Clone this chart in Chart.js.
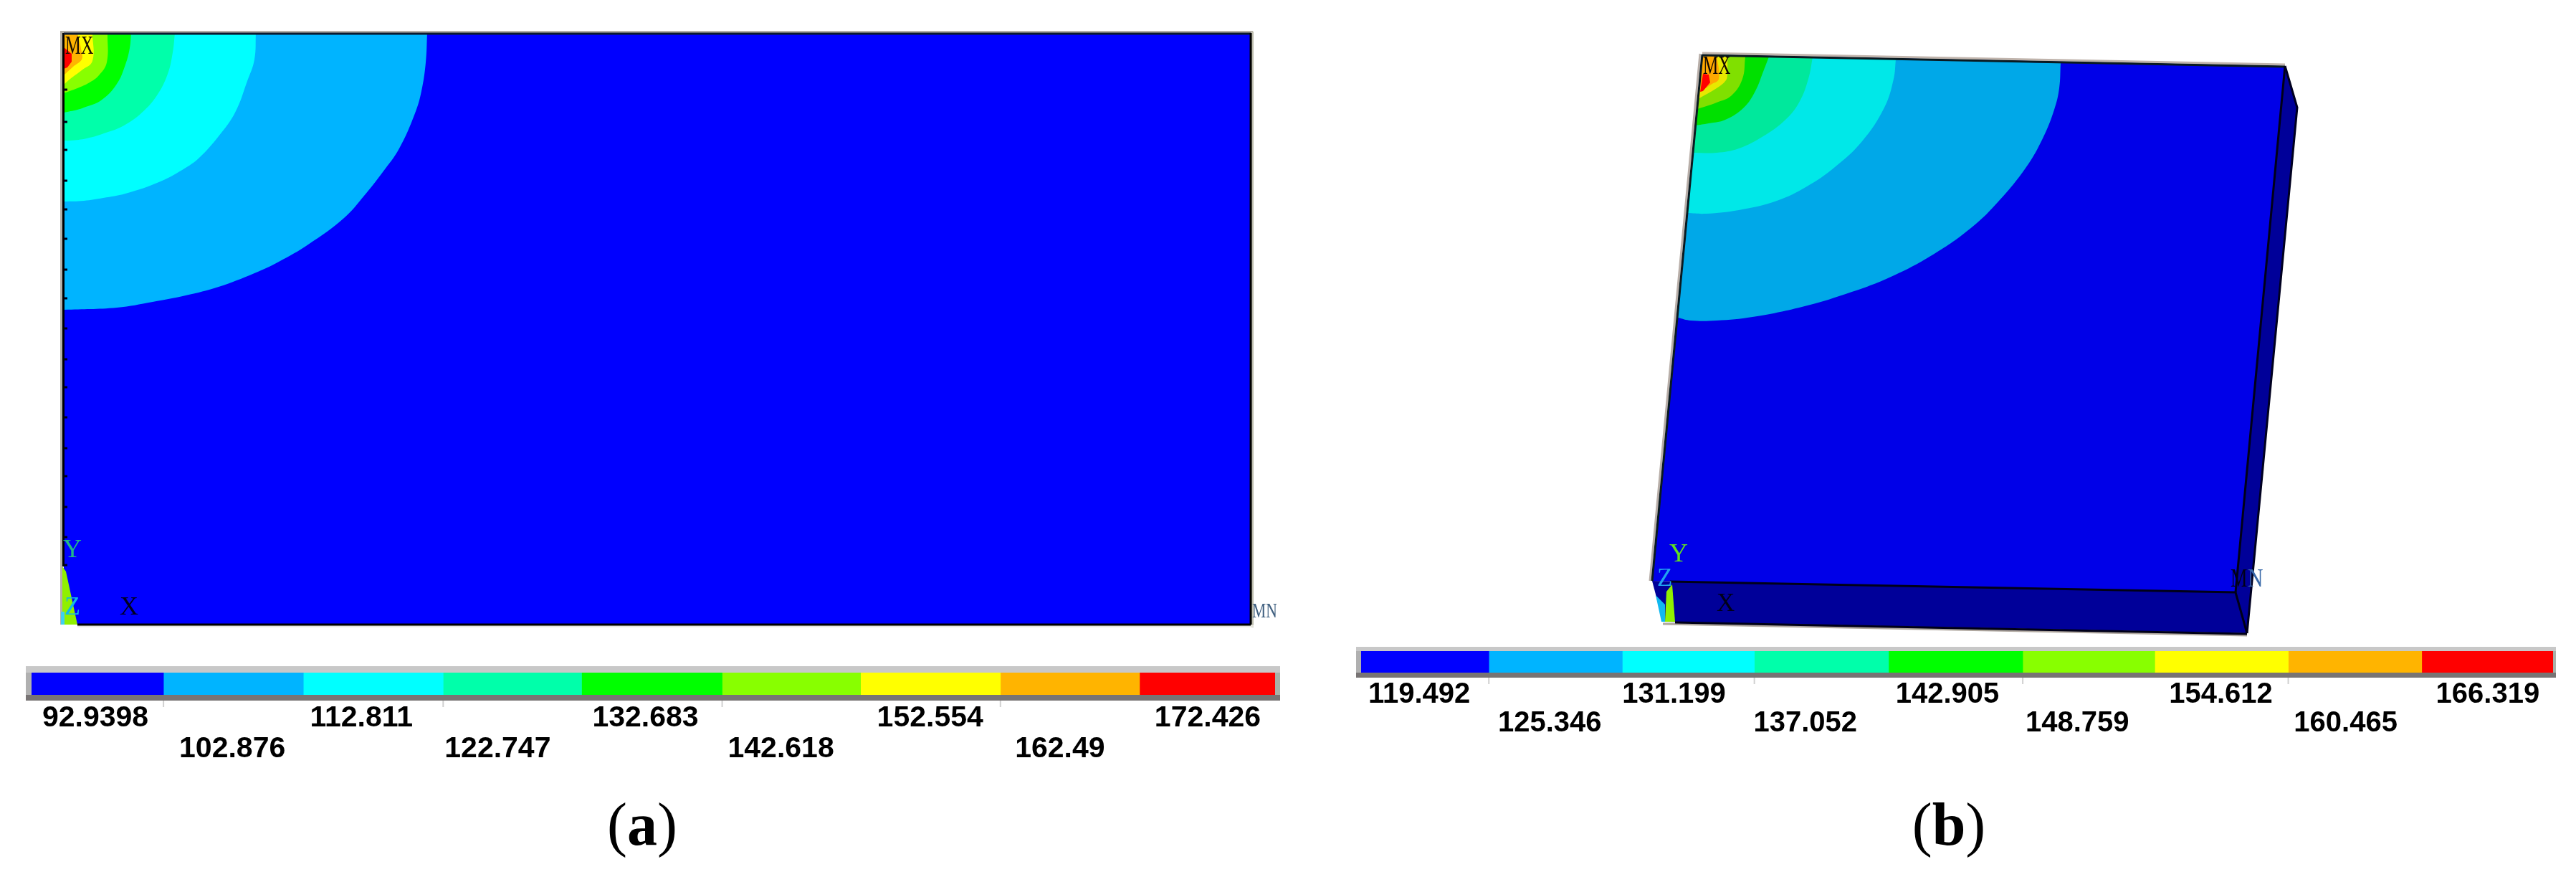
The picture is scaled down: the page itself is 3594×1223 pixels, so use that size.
<!DOCTYPE html>
<html>
<head>
<meta charset="utf-8">
<script src="https://cdn.jsdelivr.net/npm/chart.js@4/dist/chart.umd.js"></script>
<style>
html,body{margin:0;padding:0;background:#fff;width:3594px;height:1223px;overflow:hidden}
canvas{position:absolute;display:block}
.cap{position:absolute;font-family:"Liberation Serif",serif;font-size:84px;line-height:100px;color:#000;transform:translateX(-50%);white-space:nowrap}
</style>
</head>
<body>
<canvas id="plateA" style="left:59px;top:20px" width="1722" height="880"></canvas>
<canvas id="plateB" style="left:2290px;top:50px" width="940" height="850"></canvas>
<canvas id="barA" style="left:36px;top:929px" width="1750" height="140"></canvas>
<canvas id="barB" style="left:1892px;top:902px" width="1674" height="130"></canvas>
<div class="cap" style="left:896px;top:1100px">(<b>a</b>)</div>
<div class="cap" style="left:2719px;top:1100px">(<b>b</b>)</div>
<script>
// ---- colour-bar data ----
const bandColors = ['#0000ff','#00b4ff','#00ffff','#00ffaa','#00ff00','#88ff00','#ffff00','#ffb400','#ff0000'];
const labelsA = ['92.9398','102.876','112.811','122.747','132.683','142.618','152.554','162.49','172.426'];
const labelsB = ['119.492','125.346','131.199','137.052','142.905','148.759','154.612','160.465','166.319'];
const bandWidthsA = [184,195,195,193,196,193,195,194,189];
const bandWidthsB = [178,186,184,187,187,184,186,186,183];
const labelPosA = [89,280,460,650,856,1045,1253,1434,1640];
const labelPosB = [81,263,436,619,817,998,1198,1372,1570];

// ---- contour boundaries of panel (a), in picture units ----
const plateA = [[89,46],[1745,46],[1745,871],[89,871]];
const contA1 = [[89,46],[596,46],[594,87],[588,127],[579,158],[557,207],[534,240],[508,273],[480,304],[430,341],[389,365],[355,381],[305,400],[259,412],[213,421],[163,429],[89,432]];
const contA2 = [[89,46],[357,46],[355,83],[345,113],[328,157],[305,190],[278,220],[259,234],[224,253],[175,270],[144,276],[117,280],[89,281]];
const contA3 = [[89,46],[244,46],[241,73],[234,103],[219,133],[198,157],[173,175],[148,185],[121,193],[98,196],[89,196]];
const contA4 = [[89,46],[183,46],[181,67],[175,90],[163,117],[141,140],[117,150],[108,153],[89,157]];
const contA5 = [[89,46],[150,46],[149,87],[138,105],[125,115],[108,123],[89,130]];
const contA6 = [[89,46],[129,46],[129,85],[114,98],[98,110],[89,118]];
const contA7 = [[89,46],[108,46],[114,73],[114,83],[102,93],[89,105]];
const contA8 = [[89,66],[100,75],[100,86],[94,94],[89,96]];
const wedgeA1 = [[87,790],[92,797],[108,871],[87,871]];
const wedgeA2 = [[85,853],[90,853],[90,871],[85,871]];
const edgeTicksA = [125,170,209,252,292,333,376,416,458,501,540,582,625,664,707,749,788];

// ---- contour boundaries of panel (b), in picture units ----
const topFaceB = [[2375,76],[3188,92],[3119,826],[2305,810]];
const sideFaceB = [[3188,92],[3205,150],[3135,883],[3119,826]];
const frontFaceB = [[2305,810],[3119,826],[3135,883],[2320,867]];
const contB1 = [[2375,76],[2875,88],[2873,123],[2866,153],[2850,193],[2827,233],[2789,280],[2751,317],[2697,355],[2636,387],[2575,410],[2514,428],[2445,442],[2395,447],[2359,447],[2341,443]];
const contB2 = [[2375,76],[2645,83],[2642,110],[2629,150],[2598,197],[2560,233],[2521,260],[2479,280],[2426,293],[2380,298],[2354,297]];
const contB3 = [[2375,76],[2529,80],[2523,110],[2510,143],[2491,167],[2460,190],[2426,207],[2395,213],[2362,213]];
const contB4 = [[2375,76],[2468,79],[2460,100],[2449,127],[2433,150],[2407,167],[2384,172],[2365,175]];
const contB5 = [[2375,76],[2435,79],[2431,110],[2416,133],[2395,143],[2368,152]];
const contB6 = [[2375,76],[2410,77],[2410,103],[2408,112],[2395,123],[2369,138]];
const contB7 = [[2375,76],[2395,77],[2398,110],[2387,118],[2372,128]];
const contB8 = [[2376,103],[2384,104],[2386,115],[2376,127],[2372,128]];
const wedgeB1 = [[2325,825],[2333,815],[2337,867],[2323,867]];
const wedgeB2 = [[2310,830],[2323,843],[2323,867],[2318,867]];

const plateLettersA = ['MX','Y','Z','X','MN'];
const plateLettersB = ['MX','Y','Z','X','M','N'];

const pts = a => a.map(p => ({x:p[0], y:p[1]}));
const poly = (a, color) => ({data:pts(a), showLine:true, fill:'shape', backgroundColor:color, borderWidth:0, pointRadius:0, tension:0, clip:false});
// contour: corner, then a smooth run of boundary points (the repeated ends keep the corners sharp)
const contour = (a, color) => {
  const run = a.slice(1);
  return {data:pts([a[0], run[0], ...run, run[run.length-1]]), showLine:true, fill:'shape', backgroundColor:color, borderWidth:0, pointRadius:0, tension:0.4, clip:false};
};
const edge = (a, color, w) => ({data:pts(a), showLine:true, fill:false, borderColor:color, borderWidth:w, pointRadius:0, tension:0, clip:false});

function letterPlugin(items){
  return {id:'letters', afterDatasetsDraw(chart){
    const c = chart.ctx, xs = chart.scales.x, ys = chart.scales.y;
    items.forEach(t=>{
      c.save();
      c.translate(xs.getPixelForValue(t.x), ys.getPixelForValue(t.y));
      c.scale(t.sx||1, 1);
      c.font = (t.size||33)+'px "Liberation Serif"';
      c.fillStyle = t.color;
      c.textAlign = 'left'; c.textBaseline = 'alphabetic';
      c.fillText(t.text, 0, 0);
      c.restore();
    });
  }};
}

function plate(id, xr, yr, layers, letters){
  layers.forEach((d,i)=>{ d.order = layers.length - i; });
  return new Chart(document.getElementById(id), {
    type:'scatter',
    data:{datasets:layers},
    options:{
      responsive:false, animation:false, devicePixelRatio:1,
      layout:{padding:0, autoPadding:false},
      plugins:{legend:{display:false}, tooltip:{enabled:false}, title:{display:false}},
      scales:{
        x:{type:'linear', display:false, min:xr[0], max:xr[1]},
        y:{type:'linear', display:false, reverse:true, min:yr[0], max:yr[1]}
      }
    },
    plugins:[letterPlugin(letters)]
  });
}

// Panel (a)
plate('plateA',[59,1781],[20,900],[
  edge([[85.5,43],[85.5,871]],'#b4b0a8',3),
  edge([[85,44.5],[1748,44.5]],'#b4b0a8',3),
  edge([[1747.5,44],[1747.5,875]],'#c0c0b0',3),
  edge([[108,873],[1749,873]],'#e6e6de',3),
  poly(plateA,bandColors[0]),
  contour(contA1,bandColors[1]),
  contour(contA2,bandColors[2]),
  contour(contA3,bandColors[3]),
  contour(contA4,bandColors[4]),
  contour(contA5,bandColors[5]),
  contour(contA6,bandColors[6]),
  contour(contA7,bandColors[7]),
  poly(contA8,bandColors[8]),
  poly(wedgeA1,'#90f000'),
  poly(wedgeA2,'#40d0f0'),
  edge([[88.5,46],[88.5,790]],'#000',3),
  edge([[89,47],[1745,47]],'#0a1a30',3),
  edge([[1745,46],[1745,871]],'#000',3),
  edge([[108,871],[1745,871]],'#000',3),
  {data:edgeTicksA.map(y=>({x:89,y})), showLine:false, pointStyle:'dash', pointRadius:5, pointBorderWidth:3, pointBorderColor:'#000015', pointBackgroundColor:'#000015', clip:false}
],[
  {text:plateLettersA[0], x:91, y:75, size:36, sx:0.68, color:'#1a1000'},
  {text:plateLettersA[1], x:88, y:777, size:36, color:'#22b888'},
  {text:plateLettersA[2], x:90, y:857, size:36, color:'#10b8e8'},
  {text:plateLettersA[3], x:167, y:857, size:36, color:'#000020'},
  {text:plateLettersA[4], x:1747, y:861, size:30, sx:0.72, color:'#406080'}
]);

// Panel (b)
plate('plateB',[2290,3230],[50,900],[
  edge([[2372,75],[2302,810]],'#b8aea8',3),
  edge([[2375,74],[3188,90]],'#c0b4ac',3),
  edge([[2320,870],[3135,886]],'#b0a8a0',3),
  poly(sideFaceB,'#000099'),
  poly(frontFaceB,'#000099'),
  poly(topFaceB,'#0000e8'),
  contour(contB1,'#00a8e8'),
  contour(contB2,'#00e8e8'),
  contour(contB3,'#00e89c'),
  contour(contB4,'#00e000'),
  contour(contB5,'#80e000'),
  contour(contB6,'#e8e800'),
  contour(contB7,'#ffa800'),
  poly(contB8,'#ff0000'),
  poly(wedgeB2,'#10b8f0'),
  poly(wedgeB1,'#90f000'),
  edge([[2375,76],[2305,810]],'#0a1a20',3),
  edge([[2375,77],[3188,93]],'#0a1a20',3),
  edge([[3188,92],[3119,826]],'#000018',3),
  edge([[3188,92],[3205,150],[3135,883]],'#000020',3),
  edge([[2330,811],[3119,826],[3135,883]],'#000018',3),
  edge([[2337,868],[3135,884]],'#000018',3)
],[
  {text:plateLettersB[0], x:2376, y:103, size:35, sx:0.68, color:'#100800'},
  {text:plateLettersB[1], x:2329, y:783, size:36, color:'#60e020'},
  {text:plateLettersB[2], x:2312, y:817, size:35, color:'#20a0f0'},
  {text:plateLettersB[3], x:2395, y:852, size:35, color:'#000018'},
  {text:plateLettersB[4], x:3112, y:818, size:35, sx:0.75, color:'#000018'},
  {text:plateLettersB[5], x:3136, y:818, size:35, sx:0.85, color:'#3868a8'}
]);

// Colour bars: stacked horizontal bars, labels are real axis ticks
const framePlugin = {id:'frame', beforeDraw(chart){
  const {left,right,top,bottom} = chart.chartArea, c = chart.ctx, o = chart.options.frame;
  c.save();
  c.fillStyle = '#c8c8c8'; c.fillRect(left-o.l, top-o.t, right-left+o.l+o.r, o.t);
  c.fillStyle = '#b0b0b0'; c.fillRect(left-o.l, top, o.l, bottom-top);
  c.fillStyle = '#a8b0a8'; c.fillRect(right, top, o.r, bottom-top);
  c.fillStyle = '#787474'; c.fillRect(left-o.l, bottom, right-left+o.l+o.r, o.b);
  c.restore();
}, afterDraw(chart){
  const {bottom} = chart.chartArea, c = chart.ctx, o = chart.options.frame, xs = chart.scales.x;
  let acc = 0;
  c.save(); c.fillStyle = '#d0d0d0';
  chart.data.datasets.forEach((d,i)=>{
    acc += d.data[0];
    if (i%2===0 && i<8) c.fillRect(xs.getPixelForValue(acc)-1, bottom+o.b, 2, 9);
  });
  c.restore();
}};

function colorBar(id, labels, widths, positions, frame, axisHeight, tickPad, size, lineH){
  const total = widths.reduce((a,b)=>a+b,0);
  return new Chart(document.getElementById(id), {
    type:'bar',
    data:{labels:['bands'], datasets:widths.map((w,i)=>({
      label:labels[i], data:[w], backgroundColor:bandColors[i], borderWidth:0, barPercentage:1, categoryPercentage:1
    }))},
    options:{
      indexAxis:'y', responsive:false, animation:false, devicePixelRatio:1,
      frame,
      layout:{padding:{left:frame.l, right:frame.r, top:frame.t, bottom:0}, autoPadding:false},
      plugins:{legend:{display:false}, tooltip:{enabled:false}, title:{display:false}},
      scales:{
        y:{stacked:true, display:false},
        x:{stacked:true, type:'linear', min:0, max:total,
          grid:{display:false}, border:{display:false},
          afterBuildTicks(s){ s.ticks = positions.map(v=>({value:v})); },
          afterFit(s){ s.height = axisHeight; },
          ticks:{
            autoSkip:false, maxRotation:0, minRotation:0, padding:tickPad, color:'#000',
            font:{family:'"Liberation Sans"', size:size, weight:'bold', lineHeight:lineH},
            callback(v,i){ const t = labels[i]; return i%2===0 ? [t,' '] : [' ',t]; }
          }
        }
      }
    },
    plugins:[framePlugin]
  });
}
colorBar('barA', labelsA, bandWidthsA, labelPosA, {l:8,r:7,t:9,b:8}, 100, 3, 41, 43/41);
colorBar('barB', labelsB, bandWidthsB, labelPosB, {l:7,r:4,t:6,b:7}, 94, 3, 40, 1);
</script>
</body>
</html>
